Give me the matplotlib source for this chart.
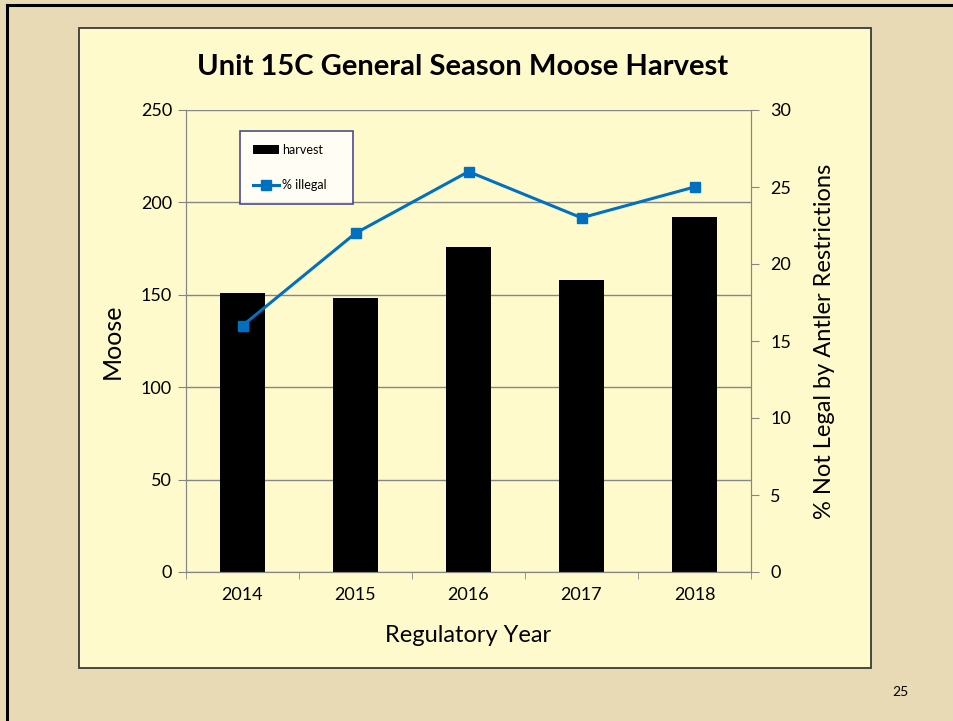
"""Unit 15C general season moose harvest slide: bars for harvest,
line for % not legal by antler restrictions."""
import matplotlib
matplotlib.use("Agg")
import matplotlib.pyplot as plt
from matplotlib.patches import Rectangle
from matplotlib.lines import Line2D
import numpy as np

years = ["2014", "2015", "2016", "2017", "2018"]
harvest = [151, 148, 176, 158, 192]
pct_illegal = [16, 22, 26, 23, 25]

plt.rcParams["font.family"] = ["Lato", "DejaVu Sans"]

W, H = 954, 721
FIG = plt.figure(figsize=(W / 100, H / 100), dpi=100)
FIG.patch.set_facecolor("#E9DAB6")


def px_box(x0, y0, x1, y1):
    # pixel box (top-left origin) -> figure fraction rect
    return [x0 / W, 1 - y1 / H, (x1 - x0) / W, (y1 - y0) / H]


# slide border, top and left
FIG.add_artist(Line2D([7 / W, 7 / W], [0, 1 - 5 / H], color="black", lw=2.2))
FIG.add_artist(Line2D([7 / W, 1], [1 - 5 / H, 1 - 5 / H], color="black", lw=2.2))

# chart area panel, drawn beneath the axes
r = px_box(79, 28, 871, 668)
FIG.add_artist(Rectangle((r[0], r[1]), r[2], r[3], transform=FIG.transFigure,
                         facecolor="#FFFACC", edgecolor="#3a3a3a", lw=1.3,
                         zorder=-5))

AX = FIG.add_axes(px_box(186, 110, 751, 572))
AX.set_facecolor("none")
x = np.arange(len(years))
AX.bar(x, harvest, width=0.4, color="black", zorder=2, label="harvest")
AX.set_xlim(-0.5, len(years) - 0.5)
AX.set_ylim(0, 250)
AX.set_yticks(range(0, 251, 50))
AX.yaxis.grid(True, color="#868686", lw=1)
AX.set_axisbelow(True)
AX.set_xticks(x)
AX.set_xticklabels(years, fontsize=13)
AX.set_xticks(np.arange(-0.5, len(years)), minor=True)
AX.tick_params(axis="x", which="major", length=0, pad=11)
AX.tick_params(axis="x", which="minor", length=5, color="#868686")
AX.tick_params(axis="y", length=6, color="#868686", labelsize=13, pad=4)
for s in ["left", "bottom", "right"]:
    AX.spines[s].set_color("#868686")
AX.spines["top"].set_visible(False)
AX.set_ylabel("Moose", fontsize=18, labelpad=12)
AX.set_xlabel("Regulatory Year", fontsize=17, labelpad=16)

AX2 = AX.twinx()
AX2.plot(x, pct_illegal, color="#0070C0", lw=2.2, marker="s", ms=7,
         label="% illegal", zorder=3)
AX2.set_ylim(0, 30)
AX2.set_yticks(range(0, 31, 5))
AX2.tick_params(axis="y", length=6, color="#868686", labelsize=13, pad=8)
for s in ["left", "bottom", "right"]:
    AX2.spines[s].set_color("#868686")
AX2.spines["top"].set_visible(False)
AX2.set_ylabel("% Not Legal by Antler Restrictions", fontsize=17, labelpad=16)

FIG.text(463 / W, 1 - 67 / H, "Unit 15C General Season Moose Harvest",
         ha="center", va="center", fontsize=21, fontweight="bold")

h1, l1 = AX.get_legend_handles_labels()
h2, l2 = AX2.get_legend_handles_labels()
leg = AX2.legend(h1 + h2, l1 + l2, loc="upper left", mode="expand",
                 bbox_to_anchor=(54 / 565, 1 - 92 / 462, 113 / 565, 71 / 462),
                 fontsize=9, frameon=True, fancybox=False, labelspacing=1.9,
                 handlelength=2.1, borderpad=1.0, handletextpad=0.3,
                 borderaxespad=0)
leg.get_frame().set_edgecolor("#1F1F7A")
leg.get_frame().set_linewidth(1.2)
leg.set_zorder(5)

FIG.text(900 / W, 1 - 692 / H, "25", ha="center", va="center", fontsize=10)

FIG.savefig("out.png", dpi=100, facecolor=FIG.get_facecolor())
